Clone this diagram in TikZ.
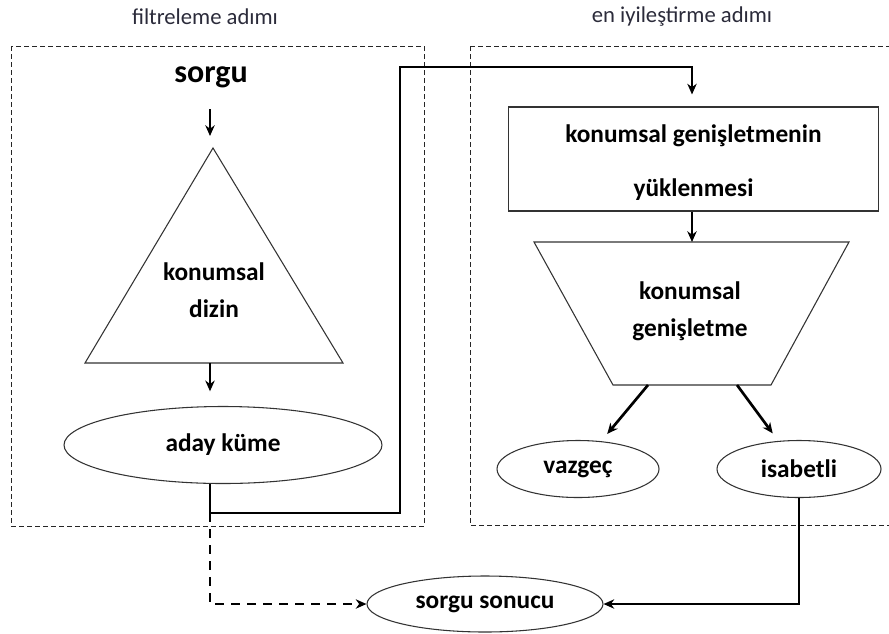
\documentclass[tikz,border=0pt]{standalone}
\usepackage{fontspec}
\setmainfont{Carlito}
\usetikzlibrary{arrows.meta,shapes.geometric}
\definecolor{lblcol}{HTML}{2B2B3A}
\begin{document}
\begin{tikzpicture}[x=0.75pt,y=-0.75pt,
  txt/.style={font=\fontsize{19}{23}\selectfont\bfseries, align=center, inner sep=0pt},
  steplabel/.style={font=\fontsize{17}{20}\selectfont, text=lblcol, inner sep=0pt},
  shapeline/.style={draw=black!80, line width=0.8pt},
  oval/.style={ellipse, shapeline, inner sep=0pt},
  areabox/.style={draw=black!85, line width=0.75pt, dash pattern=on 3.5pt off 2.5pt},
  conn/.style={draw=black, line width=2pt, -{Stealth[length=8pt,width=7pt,inset=2.5pt]}},
  thinconn/.style={draw=black, line width=1.5pt, -{Stealth[length=8pt,width=7pt,inset=2.5pt]}},
  dconn/.style={conn, dash pattern=on 7pt off 5pt},
]
\useasboundingbox (0,0) rectangle (889,633);

% dashed areas
\draw[areabox] (11,46) rectangle (424,526);
\draw[areabox] (470,46) -- (895,46) (470,46) -- (470,525) -- (895,525);
\node[steplabel] (lab1) at (205,17) {filtreleme adımı};
\node[steplabel] (lab2) at (682,17) {en iyileştirme adımı};

% left column
\node[font=\fontsize{24}{28}\selectfont\bfseries, inner sep=0pt] (sorgu) at (211,77) {sorgu};
\coordinate (apex) at (213,148);
\coordinate (tl) at (85,363);
\coordinate (tr) at (343,363);
\coordinate (tbase) at (210,363);
\draw[shapeline, line join=miter] (apex) -- (tr) -- (tl) -- cycle;
\node[txt] (dizin) at (214,290) {konumsal\\[5pt]dizin};

\node[oval, minimum width=238.5pt, minimum height=57.75pt] (aday) at (223,445) {};
\node[txt] at (aday) {aday küme};

% right column
\node[shapeline, rectangle, minimum width=278pt, minimum height=78pt, inner sep=0pt] (load) at (693.5,159) {};
\node[txt] (loadtxt) at (693.5,162.5) {konumsal genişletmenin\\[18pt]yüklenmesi};

\coordinate (trTL) at (534,242);
\coordinate (trTR) at (849,242);
\coordinate (trBR) at (771,385);
\coordinate (trBL) at (613,385);
\coordinate (trtop) at (692,242);
\draw[shapeline, line join=miter] (trTL) -- (trTR) -- (trBR) -- (trBL) -- cycle;
\node[txt] (gen) at (690,311) {konumsal\\[5pt]genişletme};
\coordinate (tb1) at (648,385);
\coordinate (tb2) at (737,385);

\node[oval, minimum width=121.5pt, minimum height=42.75pt] (vaz) at (578,469) {};
\node[txt] at (vaz) {vazgeç};
\node[oval, minimum width=123pt, minimum height=42.75pt] (isa) at (799,469) {};
\node[txt] at (isa) {isabetli};

\node[oval, minimum width=177pt, minimum height=42pt] (son) at (485,604) {};
\node[txt] at (son) {sorgu sonucu};

% connectors
\draw[thinconn, shorten <=16pt, shorten >=9pt] (sorgu.south -| tbase) -- (apex -| tbase);
\draw[thinconn, shorten >=11pt] (tbase) -- (aday.north -| tbase);

\coordinate (junc) at (210,513);
\coordinate (c1) at (400,513);
\coordinate (c2) at (400,67);
\coordinate (c3) at (692,67);
\draw[conn, line join=miter, shorten >=9pt] (aday.south -| junc) -- (junc) -- (c1) -- (c2) -- (c3) -- (load.north -| c3);
\draw[thinconn] (load.south -| trtop) -- (trtop);

\draw[dconn] (junc) |- (son.west);
\draw[conn, shorten >=7pt] (tb1) -- (vaz);
\draw[conn, shorten >=7pt] (tb2) -- (isa);
\draw[conn] (isa.south) |- (son.east);
\end{tikzpicture}
\end{document}
